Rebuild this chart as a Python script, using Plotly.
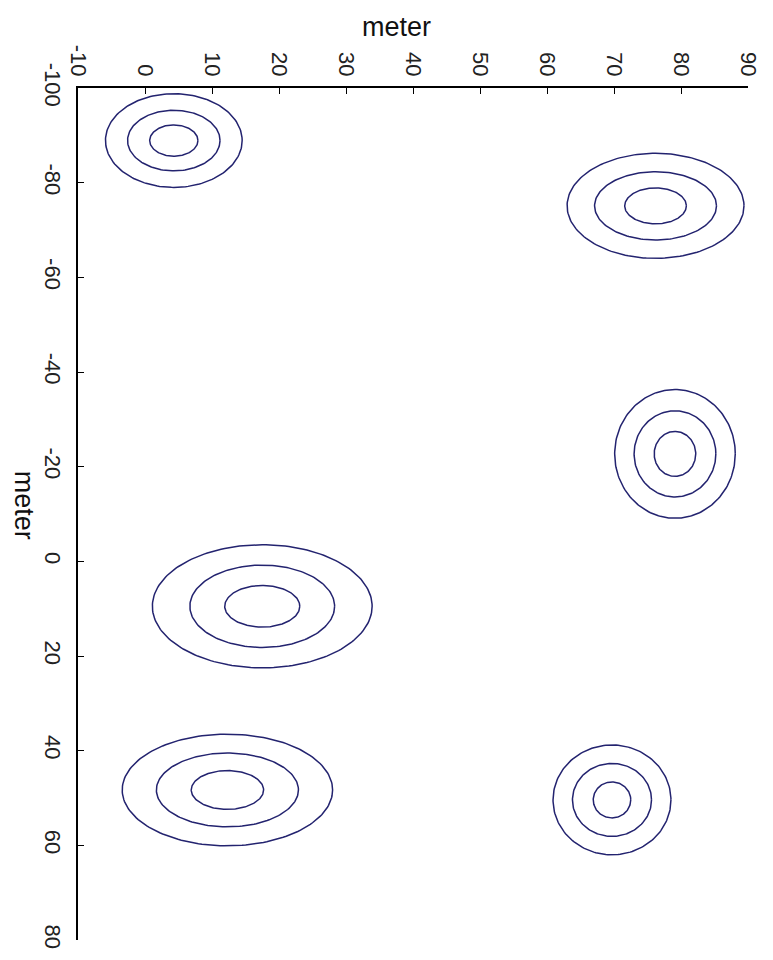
import numpy as np
import plotly.graph_objects as go

# Cluster centres (data units)
center_x = [4.3, 76.2, 79.1, 17.5, 12.3, 69.7]
center_y = [-88.9, -75.1, -22.7, 9.5, 48.3, 50.4]
# Semi-axes of the three contour rings per cluster (outer, middle, inner)
semi_x = [[10.2, 6.9, 3.6], [13.2, 9.1, 4.6], [9.0, 6.1, 3.1],
          [16.4, 10.8, 5.6], [15.7, 10.6, 5.4], [8.8, 5.9, 2.8]]
semi_y = [[9.9, 6.4, 3.3], [11.1, 7.2, 3.8], [13.6, 9.1, 4.75],
          [13.0, 8.7, 4.4], [11.8, 7.8, 4.1], [11.6, 7.7, 3.8]]

x_ticks = [-10, 0, 10, 20, 30, 40, 50, 60, 70, 80, 90]
y_ticks = [-100, -80, -60, -40, -20, 0, 20, 40, 60, 80]

LINE = "#23236f"
theta = np.linspace(0, 2 * np.pi, 181)

fig = go.Figure()
for cx, cy, axs, ays in zip(center_x, center_y, semi_x, semi_y):
    for a, b in zip(axs, ays):
        fig.add_trace(go.Scatter(
            x=cx + a * np.cos(theta), y=cy + b * np.sin(theta),
            mode="lines", line=dict(color=LINE, width=1.5),
            hoverinfo="skip", showlegend=False))

tick_font = dict(family="Liberation Sans, Arial, sans-serif", size=22, color="#222222")

# page body adds an 8px margin, so the figure is sized/offset to compensate
fig.update_layout(
    width=765, height=952,
    margin=dict(l=70, r=25, t=80, b=20, autoexpand=False),
    paper_bgcolor="white", plot_bgcolor="white",
    showlegend=False,
    xaxis=dict(
        side="top", range=[-10, 90], tickvals=x_ticks,
        ticktext=[str(v) for v in x_ticks],
        tickangle=90, ticks="inside", ticklen=6, tickcolor="black",
        showline=True, linecolor="black", linewidth=1.5,
        showgrid=False, zeroline=False, tickfont=tick_font,
        mirror=False, automargin=False, ticklabelstandoff=2,
    ),
    yaxis=dict(
        range=[80, -100], tickvals=y_ticks,
        ticktext=[str(v) for v in y_ticks],
        tickangle=90, ticks="inside", ticklen=6, tickcolor="black",
        showline=True, linecolor="black", linewidth=1.5,
        showgrid=False, zeroline=False, tickfont=tick_font,
        mirror=False, automargin=False, ticklabelstandoff=5,
    ),
    annotations=[
        dict(text="meter", xref="paper", yref="paper", x=0.476, y=1.072,
             showarrow=False, xanchor="center", yanchor="middle",
             font=dict(family="Liberation Sans, Arial, sans-serif", size=27, color="#111111")),
        dict(text="meter", xref="paper", yref="paper", x=-0.081, y=0.51,
             showarrow=False, xanchor="center", yanchor="middle", textangle=90,
             font=dict(family="Liberation Sans, Arial, sans-serif", size=27, color="#111111")),
    ],
)

fig.write_html("out.html")
